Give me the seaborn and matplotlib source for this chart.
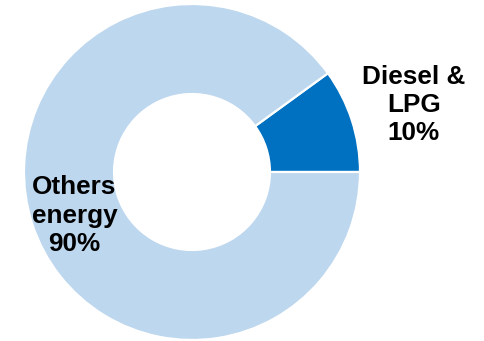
import matplotlib
matplotlib.use("Agg")
import matplotlib.pyplot as plt
import seaborn as sns

categories = ["Diesel &\nLPG", "Others\nenergy"]
shares = [10, 90]
colors = ["#0070C0", "#BDD7EE"]

sns.set_style("white")
plt.rcParams['font.family'] = ['Liberation Sans', 'DejaVu Sans']

W, H = 484, 341
fig = plt.figure(figsize=(W / 100, H / 100), dpi=100)
cx, cy, r = 192, 169, 168
ax = fig.add_axes([(cx - r) / W, (cy - r) / H, 2 * r / W, 2 * r / H])
ax.pie(shares, colors=colors, startangle=0, counterclock=True, radius=1.0,
       wedgeprops=dict(width=0.536, edgecolor="white", linewidth=1.6))
ax.set_xlim(-1, 1)
ax.set_ylim(-1, 1)
ax.set_aspect("equal")
ax.axis("off")

label_pos = [(1.32, 0.40), (-0.70, -0.26)]
for cat, val, (x, y) in zip(categories, shares, label_pos):
    ax.text(x, y, f"{cat}\n{val}%", ha="center", va="center", multialignment="center",
            fontsize=18.8, fontweight="bold", color="black", linespacing=1.22,
            clip_on=False)

fig.savefig("out.png", dpi=100, facecolor="white")
